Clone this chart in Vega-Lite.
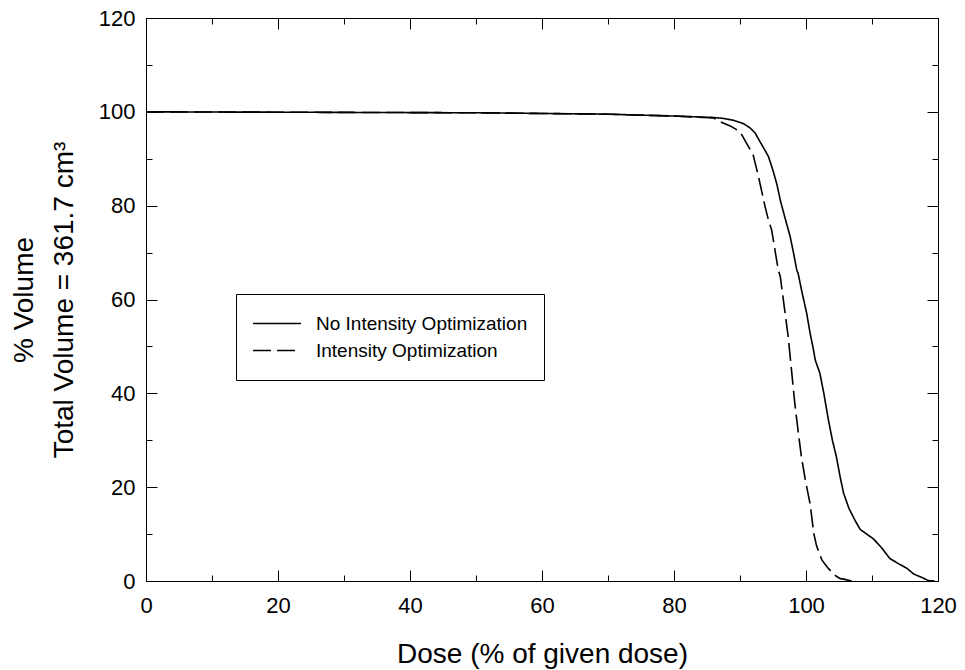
{
  "$schema": "https://vega.github.io/schema/vega-lite/v6.json",
  "width": 792,
  "height": 563,
  "autosize": "none",
  "padding": {"left": 146, "top": 18, "right": 27, "bottom": 89},
  "background": "white",
  "config": {
    "view": {"stroke": "black", "strokeWidth": 1},
    "font": "Liberation Sans",
    "axis": {"grid": false, "domainColor": "black", "tickColor": "black", "labelColor": "black", "titleColor": "black", "labelFont": "Liberation Sans", "titleFont": "Liberation Sans"}
  },
  "datasets": {
    "curves": [
      {"dose": 0, "volume": 100, "series": "No Intensity Optimization"},
      {"dose": 50, "volume": 99.8, "series": "No Intensity Optimization"},
      {"dose": 70, "volume": 99.5, "series": "No Intensity Optimization"},
      {"dose": 80, "volume": 99.1, "series": "No Intensity Optimization"},
      {"dose": 86, "volume": 98.8, "series": "No Intensity Optimization"},
      {"dose": 87.5, "volume": 98.6, "series": "No Intensity Optimization"},
      {"dose": 89, "volume": 98.2, "series": "No Intensity Optimization"},
      {"dose": 90.5, "volume": 97.5, "series": "No Intensity Optimization"},
      {"dose": 91.5, "volume": 96.6, "series": "No Intensity Optimization"},
      {"dose": 92.3, "volume": 95.5, "series": "No Intensity Optimization"},
      {"dose": 93, "volume": 93.7, "series": "No Intensity Optimization"},
      {"dose": 93.7, "volume": 92, "series": "No Intensity Optimization"},
      {"dose": 94.3, "volume": 90.5, "series": "No Intensity Optimization"},
      {"dose": 95, "volume": 87.5, "series": "No Intensity Optimization"},
      {"dose": 95.6, "volume": 84.5, "series": "No Intensity Optimization"},
      {"dose": 96.1, "volume": 81.2, "series": "No Intensity Optimization"},
      {"dose": 96.8, "volume": 77.5, "series": "No Intensity Optimization"},
      {"dose": 97.6, "volume": 73.4, "series": "No Intensity Optimization"},
      {"dose": 98.1, "volume": 70, "series": "No Intensity Optimization"},
      {"dose": 98.6, "volume": 66.3, "series": "No Intensity Optimization"},
      {"dose": 98.8, "volume": 65.6, "series": "No Intensity Optimization"},
      {"dose": 99.4, "volume": 61.5, "series": "No Intensity Optimization"},
      {"dose": 100.1, "volume": 57.1, "series": "No Intensity Optimization"},
      {"dose": 100.6, "volume": 53, "series": "No Intensity Optimization"},
      {"dose": 101.1, "volume": 49.5, "series": "No Intensity Optimization"},
      {"dose": 101.4, "volume": 47.1, "series": "No Intensity Optimization"},
      {"dose": 102.1, "volume": 44.3, "series": "No Intensity Optimization"},
      {"dose": 102.7, "volume": 40, "series": "No Intensity Optimization"},
      {"dose": 103.4, "volume": 34.3, "series": "No Intensity Optimization"},
      {"dose": 104, "volume": 30, "series": "No Intensity Optimization"},
      {"dose": 104.6, "volume": 26.5, "series": "No Intensity Optimization"},
      {"dose": 105.2, "volume": 22, "series": "No Intensity Optimization"},
      {"dose": 105.7, "volume": 18.7, "series": "No Intensity Optimization"},
      {"dose": 106.5, "volume": 15.5, "series": "No Intensity Optimization"},
      {"dose": 107.4, "volume": 13, "series": "No Intensity Optimization"},
      {"dose": 108.2, "volume": 11, "series": "No Intensity Optimization"},
      {"dose": 109.2, "volume": 10, "series": "No Intensity Optimization"},
      {"dose": 110.2, "volume": 9, "series": "No Intensity Optimization"},
      {"dose": 111.5, "volume": 7, "series": "No Intensity Optimization"},
      {"dose": 112.7, "volume": 4.8, "series": "No Intensity Optimization"},
      {"dose": 114, "volume": 3.7, "series": "No Intensity Optimization"},
      {"dose": 115.3, "volume": 2.7, "series": "No Intensity Optimization"},
      {"dose": 116.3, "volume": 1.5, "series": "No Intensity Optimization"},
      {"dose": 117.8, "volume": 0.6, "series": "No Intensity Optimization"},
      {"dose": 118.5, "volume": 0.1, "series": "No Intensity Optimization"},
      {"dose": 119.5, "volume": 0, "series": "No Intensity Optimization"},
      {"dose": 0, "volume": 100, "series": "Intensity Optimization"},
      {"dose": 50, "volume": 99.8, "series": "Intensity Optimization"},
      {"dose": 70, "volume": 99.5, "series": "Intensity Optimization"},
      {"dose": 80, "volume": 99.1, "series": "Intensity Optimization"},
      {"dose": 86, "volume": 98.7, "series": "Intensity Optimization"},
      {"dose": 87, "volume": 97.9, "series": "Intensity Optimization"},
      {"dose": 88.5, "volume": 97, "series": "Intensity Optimization"},
      {"dose": 90, "volume": 95.8, "series": "Intensity Optimization"},
      {"dose": 91, "volume": 93.3, "series": "Intensity Optimization"},
      {"dose": 92, "volume": 90.8, "series": "Intensity Optimization"},
      {"dose": 92.8, "volume": 86.2, "series": "Intensity Optimization"},
      {"dose": 93.3, "volume": 83, "series": "Intensity Optimization"},
      {"dose": 93.8, "volume": 79.8, "series": "Intensity Optimization"},
      {"dose": 94.3, "volume": 77, "series": "Intensity Optimization"},
      {"dose": 94.8, "volume": 74.8, "series": "Intensity Optimization"},
      {"dose": 95.3, "volume": 70.5, "series": "Intensity Optimization"},
      {"dose": 95.8, "volume": 66.3, "series": "Intensity Optimization"},
      {"dose": 96.1, "volume": 64.9, "series": "Intensity Optimization"},
      {"dose": 96.7, "volume": 58.5, "series": "Intensity Optimization"},
      {"dose": 97.3, "volume": 52.1, "series": "Intensity Optimization"},
      {"dose": 97.8, "volume": 45, "series": "Intensity Optimization"},
      {"dose": 98.3, "volume": 37.9, "series": "Intensity Optimization"},
      {"dose": 98.8, "volume": 32, "series": "Intensity Optimization"},
      {"dose": 99.3, "volume": 26.5, "series": "Intensity Optimization"},
      {"dose": 99.9, "volume": 21.5, "series": "Intensity Optimization"},
      {"dose": 100.6, "volume": 16.6, "series": "Intensity Optimization"},
      {"dose": 101.2, "volume": 10, "series": "Intensity Optimization"},
      {"dose": 101.6, "volume": 7.5, "series": "Intensity Optimization"},
      {"dose": 102.4, "volume": 4.5, "series": "Intensity Optimization"},
      {"dose": 103.2, "volume": 3, "series": "Intensity Optimization"},
      {"dose": 104.1, "volume": 1.6, "series": "Intensity Optimization"},
      {"dose": 104.6, "volume": 1, "series": "Intensity Optimization"},
      {"dose": 105.2, "volume": 0.5, "series": "Intensity Optimization"},
      {"dose": 105.7, "volume": 0.4, "series": "Intensity Optimization"},
      {"dose": 106.9, "volume": 0, "series": "Intensity Optimization"}
    ]
  },
  "data": {"name": "curves"},
  "layer": [
    {
      "mark": {"type": "line", "color": "black", "strokeWidth": 1.6},
      "encoding": {
        "x": {
          "field": "dose", "type": "quantitative",
          "scale": {"domain": [0, 120], "nice": false},
          "axis": {
            "orient": "bottom",
            "values": [0, 10, 20, 30, 40, 50, 60, 70, 80, 90, 100, 110, 120],
            "labelExpr": "datum.value % 20 === 0 ? datum.label : ''",
            "tickSize": {"condition": {"test": "datum.value % 20 === 0", "value": -11}, "value": -6},
            "labelPadding": 25,
            "labelFontSize": 22,
            "labelFlush": false,
            "title": "Dose (% of given dose)",
            "titleFontSize": 28,
            "titleFontWeight": "normal",
            "titlePadding": 24
          }
        },
        "y": {
          "field": "volume", "type": "quantitative",
          "scale": {"domain": [0, 120], "nice": false},
          "axis": {
            "orient": "left",
            "values": [0, 10, 20, 30, 40, 50, 60, 70, 80, 90, 100, 110, 120],
            "labelExpr": "datum.value % 20 === 0 ? datum.label : ''",
            "tickSize": {"condition": {"test": "datum.value % 20 === 0", "value": -11}, "value": -6},
            "labelPadding": 22,
            "labelFontSize": 22,
            "labelFlush": false,
            "title": ["% Volume", "Total Volume = 361.7 cm³"],
            "titleFontSize": 28,
            "titleFontWeight": "normal",
            "titleLineHeight": 40,
            "titlePadding": 20
          }
        },
        "strokeDash": {
          "field": "series", "type": "nominal",
          "scale": {"domain": ["No Intensity Optimization", "Intensity Optimization"], "range": [[1, 0], [18, 6]]},
          "legend": {
            "orient": "none", "legendX": 90, "legendY": 276,
            "title": null,
            "strokeColor": "black", "fillColor": "white",
            "padding": 16,
            "symbolType": "stroke",
            "symbolSize": 2304,
            "symbolStrokeWidth": 1.5,
            "symbolStrokeColor": "black",
            "clipHeight": 27,
            "rowPadding": 0,
            "labelFontSize": 19,
            "labelOffset": 14,
            "labelLimit": 500,
            "labelExpr": "datum.label + '         '",
            "labelColor": "black"
          }
        }
      }
    },
    {
      "mark": {"type": "line", "opacity": 0},
      "encoding": {
        "x": {
          "field": "dose", "type": "quantitative",
          "axis": {
            "orient": "top", "labels": false, "title": null,
            "values": [0, 10, 20, 30, 40, 50, 60, 70, 80, 90, 100, 110, 120],
            "tickSize": {"condition": {"test": "datum.value % 20 === 0", "value": -11}, "value": -6}
          }
        },
        "y": {
          "field": "volume", "type": "quantitative",
          "axis": {
            "orient": "right", "labels": false, "title": null,
            "values": [0, 10, 20, 30, 40, 50, 60, 70, 80, 90, 100, 110, 120],
            "tickSize": {"condition": {"test": "datum.value % 20 === 0", "value": -11}, "value": -6}
          }
        }
      }
    }
  ],
  "resolve": {"axis": {"x": "independent", "y": "independent"}}
}
